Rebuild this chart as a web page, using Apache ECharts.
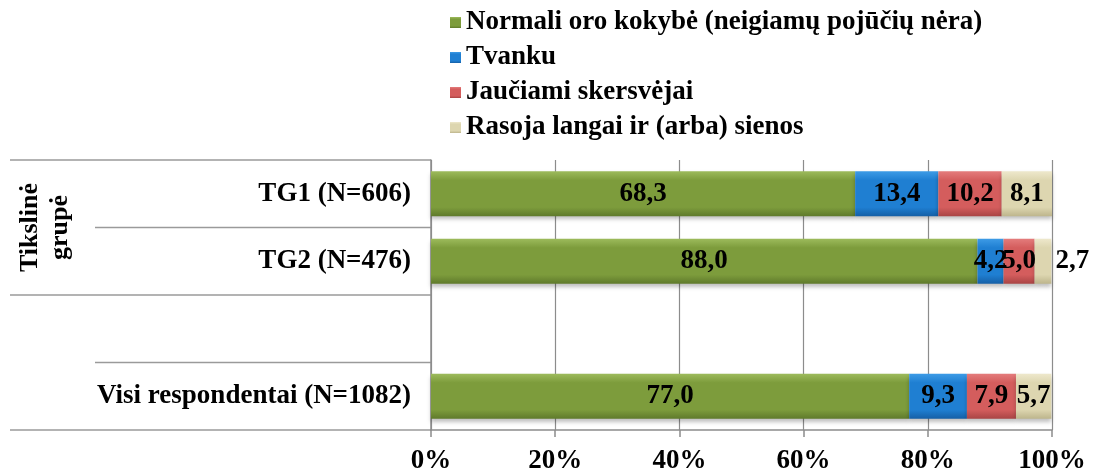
<!DOCTYPE html>
<html>
<head>
<meta charset="utf-8">
<script src="https://cdn.jsdelivr.net/npm/echarts@6/dist/echarts.min.js"></script>
<style>
html,body{margin:0;padding:0;background:#fff;}
#c{width:1096px;height:475px;}
</style>
</head>
<body>
<div id="c"></div>
<script>
var categories = ['TG1 (N=606)', 'TG2 (N=476)', '', 'Visi respondentai (N=1082)'];
var seriesNames = ['Normali oro kokybė (neigiamų pojūčių nėra)', 'Tvanku', 'Jaučiami skersvėjai', 'Rasoja langai ir (arba) sienos'];
var normali = [68.3, 88.0, null, 77.0];
var tvanku = [13.4, 4.2, null, 9.3];
var skersvejai = [10.2, 5.0, null, 7.9];
var rasoja = [8.1, 2.7, null, 5.7];
var xTicks = [0, 20, 40, 60, 80, 100];
var groupLabel = 'Tikslinė\ngrupė';

var FONT = '"Liberation Serif", "Times New Roman", serif';
var FS = 27;

function grad(c1, c2, c3) {
  return new echarts.graphic.LinearGradient(0, 0, 0, 1, [
    {offset: 0, color: c1}, {offset: 0.2, color: c2}, {offset: 0.8, color: c2}, {offset: 1, color: c3}
  ]);
}
var colors = [
  grad('#9dbb5c', '#7d9c3c', '#5f7a2b'),
  grad('#3d9be6', '#1f7fd2', '#155fa6'),
  grad('#e47c7c', '#d45d5d', '#a94444'),
  grad('#eee8cc', '#ddd6b0', '#bdb58c')
];
var allData = [normali, tvanku, skersvejai, rasoja];

function fmt(v) { return v.toFixed(1).replace('.', ','); }

var series = allData.map(function (arr, i) {
  return {
    name: seriesNames[i],
    type: 'bar',
    stack: 'total',
    barWidth: 45,
    itemStyle: {
      color: colors[i],
      shadowColor: 'rgba(0,0,0,0.25)',
      shadowBlur: 4,
      shadowOffsetY: 3
    },
    label: {
      show: true,
      position: 'inside',
      fontFamily: FONT,
      fontWeight: 'bold',
      fontSize: FS,
      color: '#000',
      formatter: function (p) { return p.value == null ? '' : fmt(p.value); }
    },
    labelLayout: {hideOverlap: false},
    data: arr.map(function (v) {
      if (v != null && v < 3) {
        return {value: v, label: {position: 'right', distance: 4}};
      }
      return v;
    })
  };
});

var chart = echarts.init(document.getElementById('c'));
chart.setOption({
  animation: false,
  backgroundColor: '#fff',
  legend: {
    orient: 'vertical',
    left: 445,
    top: 4,
    itemWidth: 11,
    itemHeight: 11,
    itemGap: 8,
    icon: 'rect',
    textStyle: {fontFamily: FONT, fontWeight: 'bold', fontSize: FS, color: '#000', lineHeight: 27},
    data: seriesNames
  },
  grid: {left: 431, right: 44, top: 160, bottom: 45, containLabel: false},
  xAxis: {
    type: 'value',
    min: 0, max: 100, interval: 20,
    axisLine: {show: true, lineStyle: {color: '#8c8c8c', width: 1.5}},
    axisTick: {show: true, length: 7, lineStyle: {color: '#8c8c8c', width: 1.5}},
    splitLine: {show: true, lineStyle: {color: '#8c8c8c', width: 1.2}},
    axisLabel: {
      fontFamily: FONT, fontWeight: 'bold', fontSize: FS, color: '#000', margin: 18,
      formatter: function (v) { return xTicks.indexOf(v) >= 0 ? v + '%' : ''; }
    }
  },
  yAxis: {
    type: 'category',
    inverse: true,
    data: categories,
    axisLine: {show: true, lineStyle: {color: '#8c8c8c', width: 1.5}},
    axisTick: {show: false},
    axisLabel: {fontFamily: FONT, fontWeight: 'bold', fontSize: FS, color: '#000', margin: 20}
  },
  series: series
});

// table lines on the category side, placed with the axis scale
var c0 = chart.convertToPixel({yAxisIndex: 0}, 0);
var c1 = chart.convertToPixel({yAxisIndex: 0}, 1);
var band = c1 - c0;
var xRight = chart.convertToPixel({xAxisIndex: 0}, 0);
var lines = [];
for (var i = 0; i <= categories.length; i++) {
  var y = c0 - band / 2 + i * band;
  var x0 = (i % 2 === 0) ? 10 : 95;
  lines.push({
    type: 'line',
    shape: {x1: x0, y1: y, x2: xRight, y2: y},
    style: {stroke: '#9a9a9a', lineWidth: 1.5}
  });
}
var groupMid = c0 - band / 2 + band;
lines.push({
  type: 'text',
  x: 45,
  y: groupMid,
  rotation: Math.PI / 2,
  style: {
    text: groupLabel,
    font: 'bold 26px ' + FONT,
    fill: '#000',
    align: 'center',
    verticalAlign: 'middle',
    lineHeight: 30
  }
});
chart.setOption({graphic: lines});
</script>
</body>
</html>
